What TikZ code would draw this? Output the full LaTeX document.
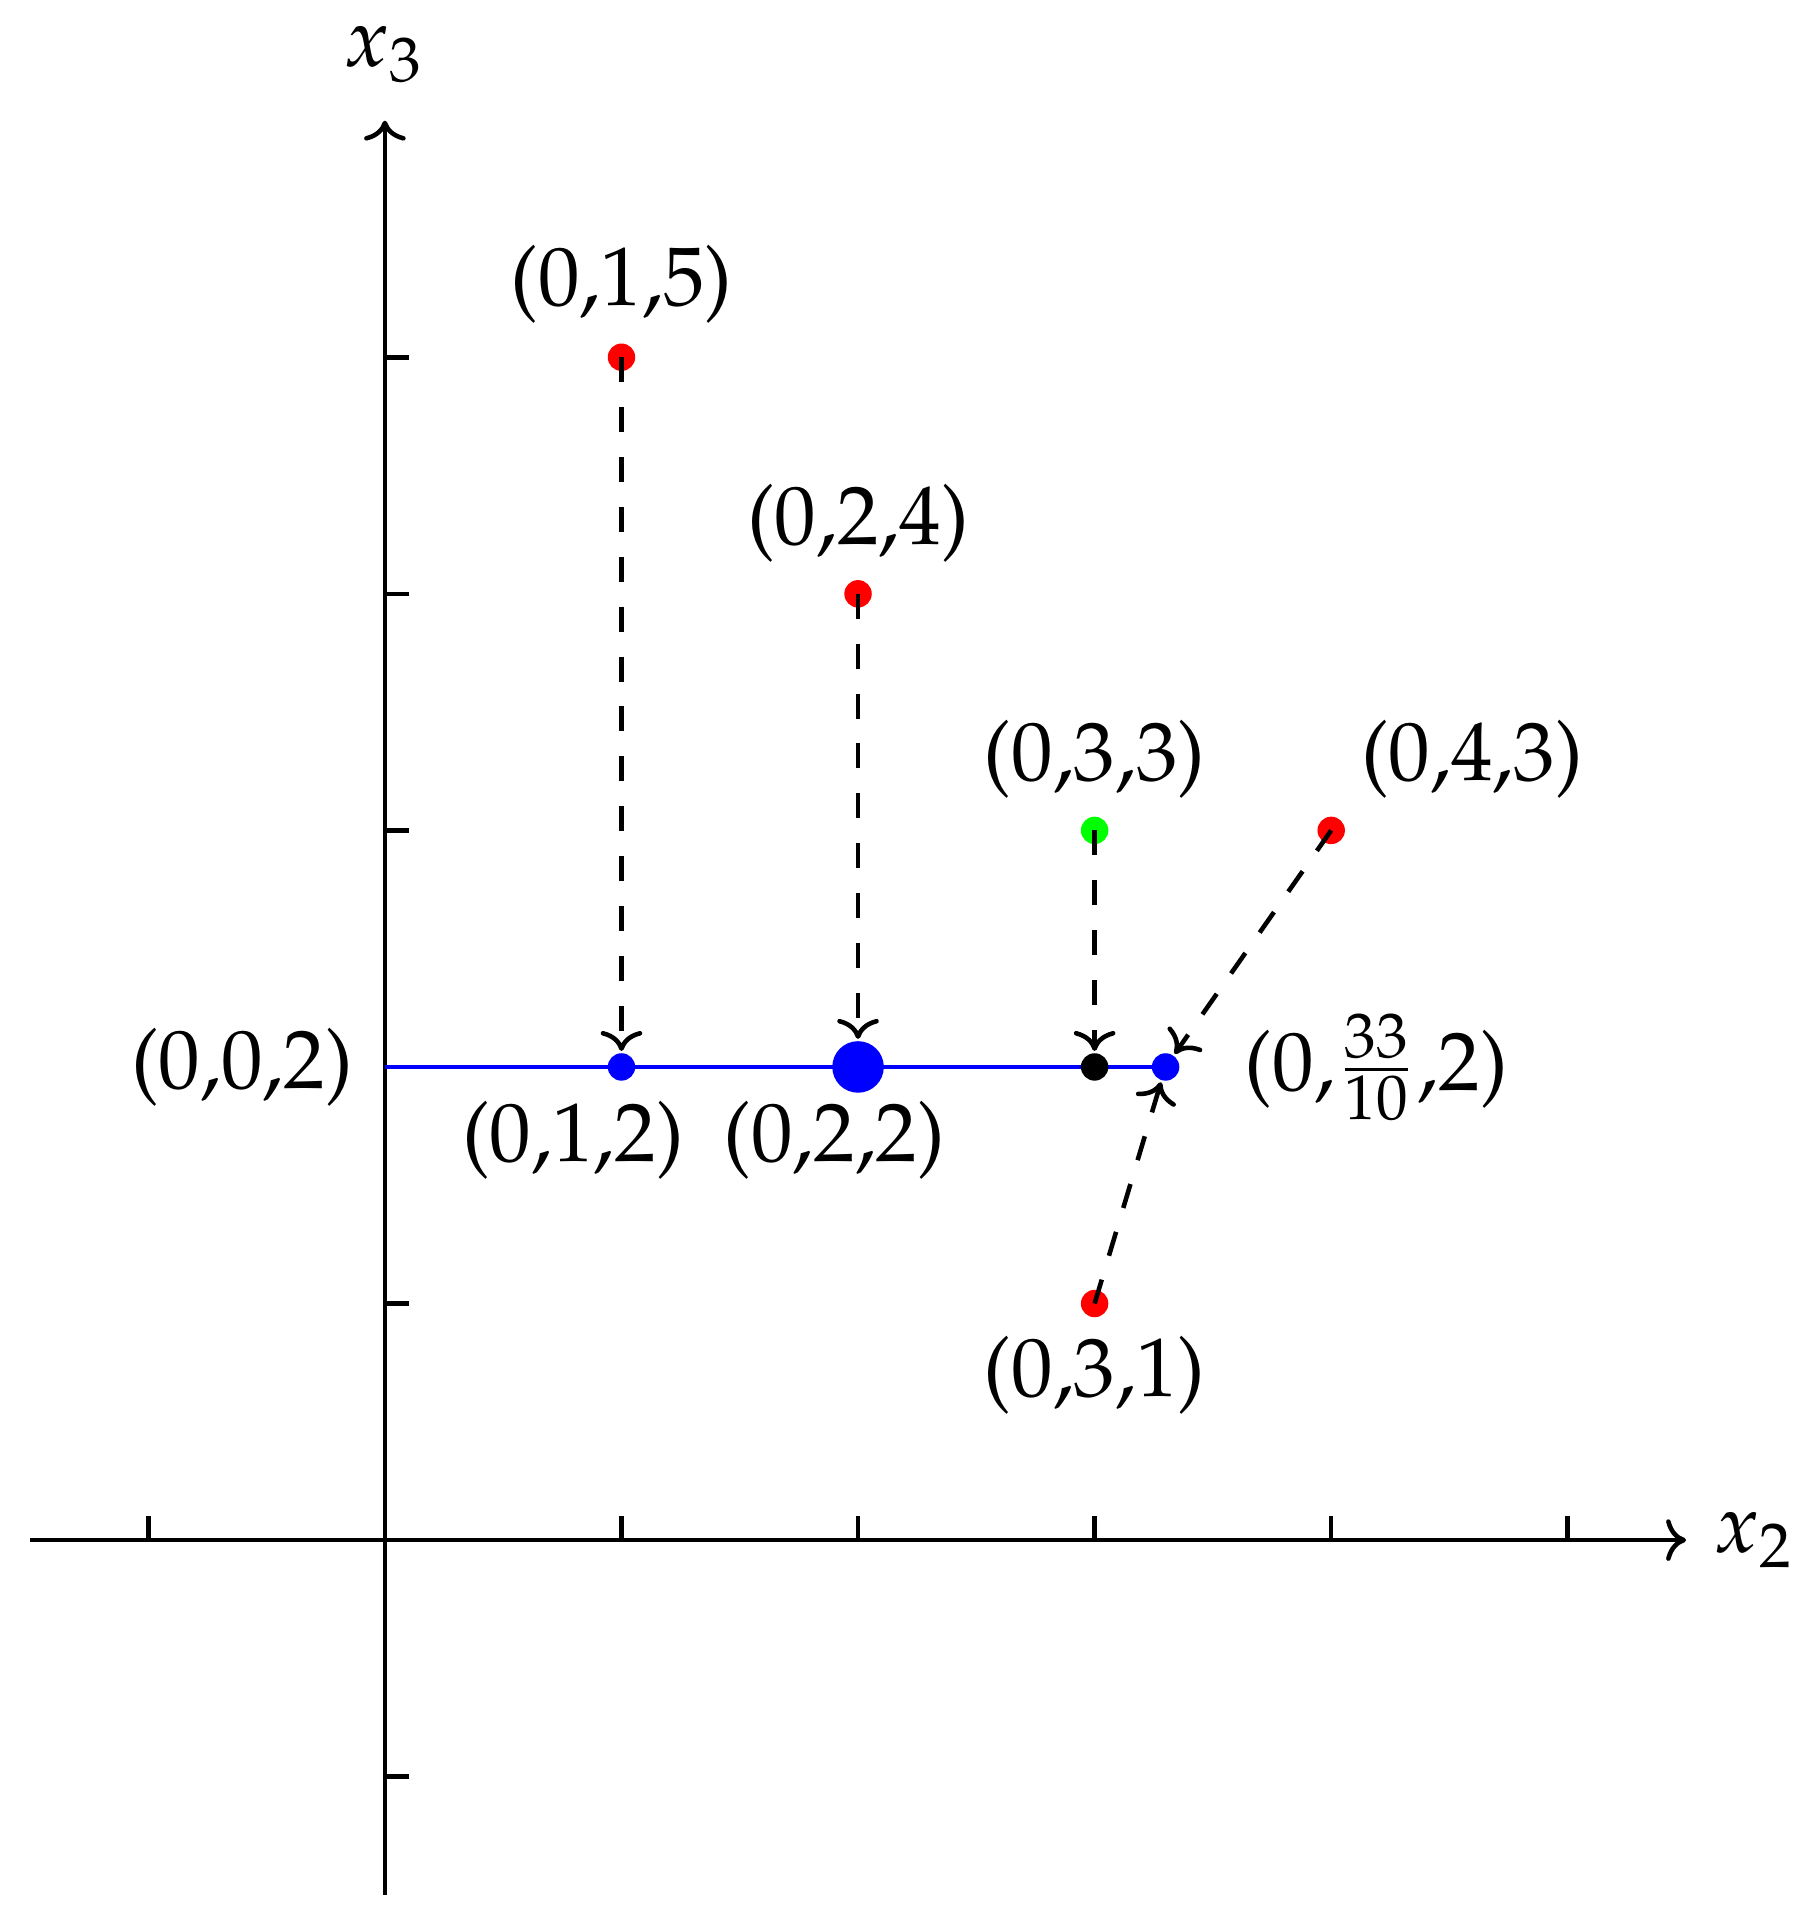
\documentclass[tikz,border=0pt]{standalone}
\usepackage[T1]{fontenc}
\usepackage{mathpazo}
\usetikzlibrary{arrows.meta}
\begin{document}
\begin{tikzpicture}[line width=0.55pt,
  >={To[width=5pt,length=2.4pt]},
  dot/.style={circle,fill,inner sep=0pt,minimum size=3.3pt},
  bigdot/.style={circle,fill,inner sep=0pt,minimum size=6.2pt},
  proj/.style={dashed,->},
  lab/.style={inner sep=0pt}]
\useasboundingbox (-1.627,-1.572) rectangle (6.064,6.51);
% axes
\coordinate (xl) at (-1.5,0);
\coordinate (xr) at (5.5,0);
\coordinate (yb) at (0,-1.5);
\coordinate (yt) at (0,6);
\draw[->] (xl) -- (xr);
\draw[->] (yb) -- (yt);
\foreach \i in {-1,1,2,3,4,5} {
  \draw (\i,0) -- (\i,0.1);
  \draw (0,\i) -- (0.1,\i);
}
\node[lab] (x2) at (5.79,0) {$x_2$};
\node[lab] (x3) at (0,6.28) {$x_3$};
% blue segment
\coordinate (o2) at (0,2);
\coordinate (c33) at (3.3,2);
\draw[blue] (o2) -- (c33);
% points
\node[dot,red] (p15) at (1,5) {};
\node[dot,red] (p24) at (2,4) {};
\node[dot,green] (p33) at (3,3) {};
\node[dot,red] (p43) at (4,3) {};
\node[dot,red] (p31) at (3,1) {};
\node[dot,blue] (q12) at (1,2) {};
\node[bigdot,blue] (q22) at (2,2) {};
\node[dot,black] (q32) at (3,2) {};
\node[dot,blue] (q33) at (3.3,2) {};
% projections
\draw[proj] (p15.center) -- (q12);
\draw[proj] (p24.center) -- (q22);
\draw[proj] (p33.center) -- (q32);
\draw[proj] (p43.center) -- (q33);
\draw[proj] (p31.center) -- (q33);
% labels
\node[lab] (l15) at (1.0,5.31) {(0,1,5)};
\node[lab] (l24) at (2.0,4.30) {(0,2,4)};
\node[lab] (l33) at (3.0,3.30) {(0,3,3)};
\node[lab] (l43) at (4.595,3.30) {(0,4,3)};
\node[lab] (l02) at (-0.604,2.0) {(0,0,2)};
\node[lab] (l12) at (0.795,1.69) {(0,1,2)};
\node[lab] (l22) at (1.90,1.69) {(0,2,2)};
\node[lab,anchor=base west] (l332) at (3.625,1.90) {(0,$\frac{33}{10}$,2)};
\node[lab] (l31) at (3.0,0.696) {(0,3,1)};
\end{tikzpicture}
\end{document}
